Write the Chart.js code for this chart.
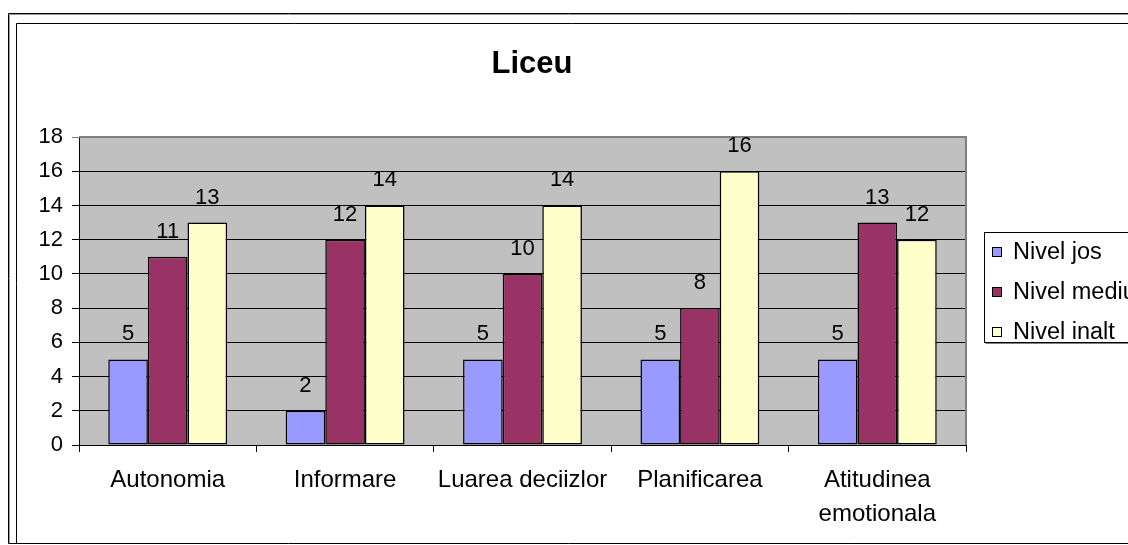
<!DOCTYPE html>
<html lang="ro">
<head>
  <meta charset="UTF-8" />
  <title>Liceu</title>
  <script src="https://cdn.jsdelivr.net/npm/chart.js"></script>
  <style>
    body {
      margin: 0;
      padding: 0;
      background: #fff;
    }

    #chartContainer {
      width: 1128px;
      height: 545px;
      position: relative;
    }
  </style>
</head>
<body>
  <div id="chartContainer">
    <canvas id="liceuChart"></canvas>
  </div>

  <script>
    const categories = ['Autonomia', 'Informare', 'Luarea deciizlor', 'Planificarea', ['Atitudinea', 'emotionala']];
    const nivelJos = [5, 2, 5, 5, 5];
    const nivelMediu = [11, 12, 10, 8, 13];
    const nivelInalt = [13, 14, 14, 16, 12];
    const seriesNames = ['Nivel jos', 'Nivel mediu', 'Nivel inalt'];
    const seriesColors = ['#9999FF', '#993366', '#FFFFCC'];

    const FONT = 'Arial, "Liberation Sans", sans-serif';

    // frame, plot background, title, value labels and legend box (Excel look)
    const excelLook = {
      id: 'excelLook',
      beforeDraw(chart) {
        const { ctx, chartArea: a } = chart;
        ctx.save();
        ctx.fillStyle = '#fff';
        ctx.fillRect(0, 0, chart.width, chart.height);
        ctx.strokeStyle = '#000';
        ctx.lineWidth = 1;
        // double frame, cut off at right and bottom
        ctx.beginPath();
        ctx.moveTo(8.5, 543.5); ctx.lineTo(8.5, 13.5); ctx.lineTo(1140, 13.5);
        ctx.moveTo(16.5, 543.5); ctx.lineTo(16.5, 23.5); ctx.lineTo(1140, 23.5);
        ctx.moveTo(8.5, 543.5); ctx.lineTo(1140, 543.5);
        ctx.stroke();
        ctx.strokeStyle = '#999';
        ctx.beginPath();
        ctx.moveTo(9.5, 543); ctx.lineTo(9.5, 14.5); ctx.lineTo(1140, 14.5);
        ctx.stroke();
        // plot area
        ctx.fillStyle = '#C0C0C0';
        ctx.fillRect(a.left, a.top, a.right - a.left, a.bottom - a.top);
        // title
        ctx.fillStyle = '#000';
        ctx.font = 'bold 31px ' + FONT;
        ctx.textAlign = 'center';
        ctx.textBaseline = 'alphabetic';
        ctx.fillText('Liceu', 532, 73);
        ctx.restore();
      },
      afterDatasetsDraw(chart) {
        const { ctx, chartArea: a } = chart;
        ctx.save();
        // plot border top / right
        ctx.strokeStyle = '#808080';
        ctx.lineWidth = 2;
        ctx.beginPath();
        ctx.moveTo(a.left, a.top);
        ctx.lineTo(a.right, a.top);
        ctx.lineTo(a.right, a.bottom);
        ctx.stroke();
        // value labels
        ctx.fillStyle = '#000';
        ctx.font = '22px ' + FONT;
        ctx.textAlign = 'center';
        ctx.textBaseline = 'alphabetic';
        chart.data.datasets.forEach((ds, i) => {
          chart.getDatasetMeta(i).data.forEach((bar, j) => {
            ctx.fillText(String(ds.data[j]), bar.x, bar.y - 19);
          });
        });
        // legend
        const lx = 984.5, ly = 232.5, lh = 110;
        ctx.fillStyle = '#fff';
        ctx.fillRect(lx, ly, 200, lh);
        ctx.strokeStyle = '#000';
        ctx.lineWidth = 1;
        ctx.strokeRect(lx, ly, 200, lh);
        ctx.strokeStyle = '#808080';
        ctx.beginPath();
        ctx.moveTo(lx + 1, ly + lh + 1); ctx.lineTo(1140, ly + lh + 1);
        ctx.stroke();
        ctx.font = '23.5px ' + FONT;
        ctx.textAlign = 'left';
        ctx.textBaseline = 'middle';
        chart.data.datasets.forEach((ds, i) => {
          const cy = 252 + i * 40;
          ctx.fillStyle = ds.backgroundColor;
          ctx.fillRect(992, cy - 5, 10, 10);
          ctx.strokeStyle = '#000';
          ctx.strokeRect(992.5, cy - 4.5, 9, 9);
          ctx.fillStyle = '#000';
          ctx.fillText(ds.label, 1013, cy + 1);
        });
        ctx.restore();
      }
    };

    const datasets = [nivelJos, nivelMediu, nivelInalt].map((values, i) => ({
      label: seriesNames[i],
      data: values,
      backgroundColor: seriesColors[i],
      borderColor: '#000',
      borderWidth: 1.5,
      borderSkipped: false,
      categoryPercentage: 0.67,
      barPercentage: 1.0
    }));

    const ctx = document.getElementById('liceuChart').getContext('2d');
    new Chart(ctx, {
      type: 'bar',
      data: { labels: categories, datasets },
      options: {
        responsive: true,
        maintainAspectRatio: false,
        animation: false,
        layout: {
          padding: { left: 19, top: 137, right: 162, bottom: 10 }
        },
        plugins: {
          legend: { display: false },
          title: { display: false },
          tooltip: { enabled: false }
        },
        scales: {
          x: {
            offset: true,
            afterFit: s => { s.height = 90; },
            grid: {
              display: true,
              drawOnChartArea: false,
              drawTicks: true,
              tickLength: 7,
              offset: true,
              color: '#000'
            },
            border: { display: true, color: '#000', width: 1 },
            ticks: {
              color: '#000',
              padding: 11,
              maxRotation: 0,
              autoSkip: false,
              font: { family: FONT, size: 24, lineHeight: 1.42 }
            }
          },
          y: {
            min: 0,
            max: 18,
            afterFit: s => { s.width = 60; },
            grid: {
              color: c => (c.tick && c.tick.value === 18 ? '#808080' : '#000'),
              lineWidth: 1,
              drawTicks: true,
              tickLength: 7
            },
            border: { display: true, color: '#000', width: 1 },
            ticks: {
              stepSize: 2,
              color: '#000',
              padding: 9,
              font: { family: FONT, size: 22 }
            }
          }
        }
      },
      plugins: [excelLook]
    });
  </script>
</body>
</html>
